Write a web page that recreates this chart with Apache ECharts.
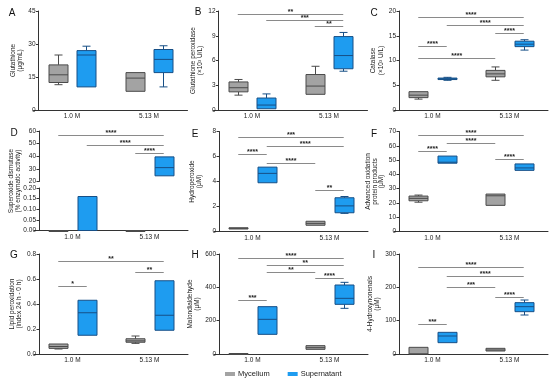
<!DOCTYPE html>
<html><head><meta charset="utf-8">
<script src="https://cdn.jsdelivr.net/npm/echarts@6/dist/echarts.min.js"></script>
<style>html,body{margin:0;padding:0;background:#fff}#c{width:550px;height:383px}</style>
</head><body><div id="c"></div>
<script>
// ---------- data ----------
const categories = ['1.0 M', '5.13 M'];
const groupNames = ['Mycelium', 'Supernatant'];
// box statistics per category: [min, Q1, median, Q3, max]
const glutathioneMyc = [[11.5, 12.5, 16, 20.5, 25], [8.5, 8.5, 14.5, 17, 17]];
const glutathioneSup = [[10.5, 10.5, 25, 27, 29], [10.5, 17, 23, 27.5, 29.2]];
const gpxMyc = [[1.8, 2.2, 2.7, 3.4, 3.7], [1.9, 1.9, 2.9, 4.3, 5.3]];
const gpxSup = [[0.1, 0.15, 0.6, 1.45, 1.95], [4.7, 5.0, 6.6, 8.9, 9.4]];
const catalaseMyc = [[2.2, 2.5, 3.0, 3.7, 3.8], [6.0, 6.7, 7.3, 8.0, 8.7]];
const catalaseSup = [[6.0, 6.15, 6.3, 6.45, 6.6], [12.1, 12.8, 13.3, 13.9, 14.2]];
const sodMyc = [[0, 0, 0, 0, 0], [0, 0, 0, 0, 0]];
const sodSup = [[0, 0, 0.16, 0.16, 0.16], [24.5, 24.5, 31, 39.5, 39.5]];
const hydroMyc = [[0.18, 0.2, 0.25, 0.3, 0.3], [0.48, 0.5, 0.65, 0.82, 0.85]];
const hydroSup = [[3.9, 3.9, 4.65, 5.15, 5.15], [1.45, 1.5, 2.05, 2.7, 2.8]];
const aoppMyc = [[20.5, 21.5, 23.2, 24.8, 25.5], [18.3, 18.3, 25, 26.2, 26.2]];
const aoppSup = [[47.5, 47.8, 48.5, 52.8, 53], [42.5, 42.8, 44.5, 47.3, 47.5]];
const lipidMyc = [[0.04, 0.045, 0.06, 0.08, 0.08], [0.085, 0.094, 0.105, 0.122, 0.144]];
const lipidSup = [[0.15, 0.15, 0.33, 0.43, 0.43], [0.19, 0.19, 0.31, 0.586, 0.586]];
const mdaMyc = [[0, 0, 1, 3, 3], [28, 28, 38, 50, 50]];
const mdaSup = [[118, 118, 208, 284, 284], [274, 298, 334, 414, 430]];
const hneMyc = [[0, 0, 0, 20, 20], [9, 9, 12, 17, 17]];
const hneSup = [[34, 34, 54, 65, 65], [117, 127, 142, 154, 162]];

// significance brackets: [from box, to box, y value]
// boxes: 0 = 1.0 M Mycelium, 1 = 1.0 M Supernatant, 2 = 5.13 M Mycelium, 3 = 5.13 M Supernatant
const sigA = [];
const sigALabels = [];
const sigB = [[0, 3, 11.6], [1, 3, 10.96], [2, 3, 10.2]];
const sigBLabels = ['**', '***', '**'];
const sigC = [[0, 3, 18.7], [1, 3, 17.1], [2, 3, 15.6], [0, 1, 12.95], [0, 2, 10.6]];
const sigCLabels = ['****', '****', '****', '****', '****'];
const sigD = [[0, 3, 56.5], [1, 3, 49.1], [2, 3, 42.5]];
const sigDLabels = ['****', '****', '****'];
const sigE = [[0, 3, 7.55], [1, 3, 6.82], [0, 1, 6.24], [1, 2, 5.5], [2, 3, 3.34]];
const sigELabels = ['***', '****', '****', '****', '**'];
const sigF = [[0, 3, 67.7], [1, 2, 61.9], [0, 1, 56.5], [2, 3, 50.7]];
const sigFLabels = ['****', '****', '****', '****'];
const sigG = [[0, 3, 0.744], [2, 3, 0.658], [0, 1, 0.546]];
const sigGLabels = ['**', '**', '*'];
const sigH = [[0, 3, 574], [1, 3, 534], [1, 2, 490], [2, 3, 454], [0, 1, 324]];
const sigHLabels = ['****', '**', '**', '****', '***'];
const sigI = [[0, 3, 262], [1, 3, 234], [1, 2, 200], [2, 3, 172], [0, 1, 89]];
const sigILabels = ['****', '****', '***', '****', '***'];

// ---------- styles ----------
const FONT = '"Liberation Sans", Arial, sans-serif';
const MYC_FILL = '#a3a3a3', MYC_EDGE = '#4a4a4a';
const SUP_FILL = '#1e9cf0', SUP_EDGE = '#174f86';
const BOX_OFF = 0.185, BOX_W = 0.25, CAP_W = 0.11;

const grids = [], xAxes = [], yAxes = [], series = [], graphics = [];

function addGrid(cfg) {
  const gi = grids.length;
  grids.push({ left: cfg.ax - 5, top: cfg.top, width: 154, height: cfg.height, containLabel: false, outerBoundsMode: 'none' });
  xAxes.push({
    gridIndex: gi, type: 'category', data: categories, show: cfg.showX !== false,
    axisLine: { lineStyle: { color: '#333', width: 1 } },
    axisTick: { alignWithLabel: true, length: 2, lineStyle: { color: '#333' } },
    axisLabel: { fontSize: 6.5, color: '#222', margin: 3, fontFamily: FONT }
  });
  yAxes.push({
    gridIndex: gi, type: 'value', min: cfg.min, max: cfg.max, interval: cfg.interval, offset: -5,
    axisLine: { show: true, lineStyle: { color: '#333', width: 1 } },
    axisTick: { show: true, length: 2.5, lineStyle: { color: '#333' } },
    axisLabel: { fontSize: 6.5, color: '#222', margin: 3, fontFamily: FONT,
      formatter: v => cfg.dec ? v.toFixed(cfg.dec) : String(Math.round(v)) },
    splitLine: { show: false },
    name: cfg.name || '', nameLocation: 'middle', nameGap: cfg.nameGap || 12,
    nameTextStyle: { fontSize: 6.5, lineHeight: cfg.nameLH || 7.5, color: '#222', fontFamily: FONT }
  });
  return gi;
}

function boxRender(side, fill, edge) {
  return function (params, api) {
    const c = api.value(0);
    const pMin = api.coord([c, api.value(1)]);
    const pQ1 = api.coord([c, api.value(2)]);
    const pMed = api.coord([c, api.value(3)]);
    const pQ3 = api.coord([c, api.value(4)]);
    const pMax = api.coord([c, api.value(5)]);
    const band = api.size([1, 0])[0];
    const x = Math.round(pMin[0] + side * BOX_OFF * band) + 0.5;
    const w = Math.round(BOX_W * band);
    const cw = Math.round(CAP_W * band);
    const ls = { stroke: edge, lineWidth: 1 };
    const ch = [];
    if (pQ3[1] - pMax[1] > 0.6) {
      ch.push({ type: 'line', shape: { x1: x, y1: pMax[1], x2: x, y2: pQ3[1] }, style: ls });
      ch.push({ type: 'line', shape: { x1: x - cw / 2, y1: pMax[1], x2: x + cw / 2, y2: pMax[1] }, style: ls });
    }
    if (pMin[1] - pQ1[1] > 0.6) {
      ch.push({ type: 'line', shape: { x1: x, y1: pQ1[1], x2: x, y2: pMin[1] }, style: ls });
      ch.push({ type: 'line', shape: { x1: x - cw / 2, y1: pMin[1], x2: x + cw / 2, y2: pMin[1] }, style: ls });
    }
    const h = Math.max(pQ1[1] - pQ3[1], 1);
    ch.push({ type: 'rect', shape: { x: x - w / 2, y: pQ3[1], width: w, height: h }, style: { fill: fill, stroke: edge, lineWidth: 1 } });
    ch.push({ type: 'line', shape: { x1: x - w / 2, y1: pMed[1], x2: x + w / 2, y2: pMed[1] }, style: ls });
    return { type: 'group', children: ch };
  };
}

function addBoxes(gi, stats, side, name, fill, edge) {
  const data = [];
  stats.forEach((s, i) => { if (s) data.push([i].concat(s)); });
  series.push({
    type: 'custom', name: name, xAxisIndex: gi, yAxisIndex: gi, data: data,
    encode: { x: 0, y: [1, 2, 3, 4, 5] },
    itemStyle: { color: fill, borderColor: edge },
    renderItem: boxRender(side, fill, edge), silent: true
  });
}

function addBrackets(gi, sig, labels) {
  if (!sig.length) return;
  series.push({
    type: 'custom', xAxisIndex: gi, yAxisIndex: gi,
    data: sig.map(s => [0, s[2]]), encode: { x: 0, y: 1 }, silent: true,
    renderItem: function (params, api) {
      const s = sig[params.dataIndex];
      const band = api.size([1, 0])[0];
      const bx = i => api.coord([Math.floor(i / 2), s[2]])[0] + (i % 2 ? 1 : -1) * BOX_OFF * band;
      const y = Math.round(api.coord([0, s[2]])[1]) + 0.5;
      const x0 = bx(s[0]), x1 = bx(s[1]);
      return { type: 'group', children: [
        { type: 'line', shape: { x1: x0, y1: y, x2: x1, y2: y }, style: { stroke: '#8a8a8a', lineWidth: 1 } },
        { type: 'text', x: (x0 + x1) / 2, y: y - 2, style: { text: labels[params.dataIndex], fill: '#222', fontSize: 7, fontWeight: 'bold', fontFamily: FONT, align: 'center', verticalAlign: 'middle' } }
      ] };
    }
  });
}

function panel(cfg, myc, sup, sig, labels) {
  const gi = addGrid(cfg);
  addBoxes(gi, myc, -1, groupNames[0], MYC_FILL, MYC_EDGE);
  addBoxes(gi, sup, 1, groupNames[1], SUP_FILL, SUP_EDGE);
  addBrackets(gi, sig, labels);
}

// Row 1
panel({ ax: 38.5, top: 11, height: 99, min: 0, max: 45, interval: 15, name: 'Glutathione\n(μg/mL)', nameGap: 12 }, glutathioneMyc, glutathioneSup, sigA, sigALabels);
panel({ ax: 218.5, top: 11, height: 99, min: 0, max: 12, interval: 3, name: 'Glutathione peroxidase\n(×10³ U/L)', nameGap: 10 }, gpxMyc, gpxSup, sigB, sigBLabels);
panel({ ax: 399, top: 11, height: 99, min: 0, max: 20, interval: 5, name: 'Catalase\n(×10³ U/L)', nameGap: 14 }, catalaseMyc, catalaseSup, sigC, sigCLabels);

// Row 2 - D with broken axis
(function () {
  const up = addGrid({ ax: 39, top: 131, height: 50.5, min: 20, max: 60, interval: 10, showX: false });
  const lo = addGrid({ ax: 39, top: 188, height: 42.5, min: 0, max: 0.2, interval: 0.05, dec: 2 });
  const inUpper = s => s[0] >= 20, inLower = s => s[4] <= 0.2;
  addBoxes(lo, sodMyc.map(s => inLower(s) ? s : null), -1, groupNames[0], MYC_FILL, MYC_EDGE);
  addBoxes(lo, sodSup.map(s => inLower(s) ? s : null), 1, groupNames[1], SUP_FILL, SUP_EDGE);
  addBoxes(up, sodMyc.map(s => inUpper(s) ? s : null), -1, groupNames[0], MYC_FILL, MYC_EDGE);
  addBoxes(up, sodSup.map(s => inUpper(s) ? s : null), 1, groupNames[1], SUP_FILL, SUP_EDGE);
  addBrackets(up, sigD, sigDLabels);
  graphics.push({ type: 'text', x: 14.5, y: 181, rotation: Math.PI / 2,
    style: { text: 'Superoxide dismutase\n(% enzymatic activity)', fontSize: 6.5, lineHeight: 6.8, fill: '#222', fontFamily: FONT, align: 'center', verticalAlign: 'middle' } });
})();
panel({ ax: 219, top: 131.5, height: 100, min: 0, max: 8, interval: 2, name: 'Hydroperoxide\n(μM)', nameGap: 16 }, hydroMyc, hydroSup, sigE, sigELabels);
panel({ ax: 399, top: 131.5, height: 100, min: 0, max: 70, interval: 10, name: 'Advanced oxidation\nprotein products\n(μM)', nameGap: 10, nameLH: 6.5 }, aoppMyc, aoppSup, sigF, sigFLabels);

// Row 3
panel({ ax: 39, top: 254, height: 100, min: 0, max: 0.8, interval: 0.2, dec: 1, name: 'Lipid peroxidation\n(index 24 h - 0 h)', nameGap: 16 }, lipidMyc, lipidSup, sigG, sigGLabels);
panel({ ax: 219, top: 254, height: 100, min: 0, max: 600, interval: 200, name: 'Malondialdehyde\n(μM)', nameGap: 16 }, mdaMyc, mdaSup, sigH, sigHLabels);
panel({ ax: 399, top: 254, height: 100, min: 0, max: 300, interval: 100, name: '4-Hydroxynonenals\n(μM)', nameGap: 14 }, hneMyc, hneSup, sigI, sigILabels);

// panel letters
const panelLetters = ['A', 'B', 'C', 'D', 'E', 'F', 'G', 'H', 'I'];
const letterPos = [[12, 13], [198, 12], [374, 13], [14, 133], [195, 134], [374, 134], [14, 255], [195, 255], [374, 255]];
panelLetters.forEach((t, i) => graphics.push({ type: 'text', x: letterPos[i][0], y: letterPos[i][1],
  style: { text: t, fontSize: 10, fill: '#111', fontFamily: FONT, align: 'center', verticalAlign: 'middle' } }));

const chart = echarts.init(document.getElementById('c'));
chart.setOption({
  animation: false,
  backgroundColor: '#fff',
  grid: grids, xAxis: xAxes, yAxis: yAxes, series: series,
  graphic: graphics,
  legend: {
    data: groupNames, left: 225, top: 370, padding: 0, icon: 'rect',
    itemWidth: 10, itemHeight: 4, itemGap: 18,
    itemStyle: { borderWidth: 0 },
    textStyle: { fontSize: 7.5, color: '#222', fontFamily: FONT, padding: [0, 0, 0, -2] }
  }
});
</script></body></html>
